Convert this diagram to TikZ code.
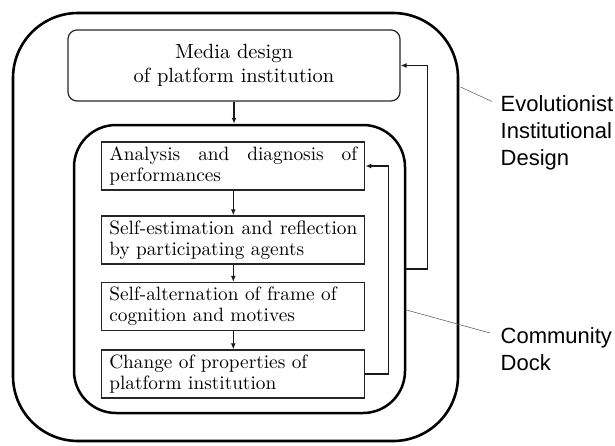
\documentclass[tikz,border=0pt]{standalone}
\usepackage{fontspec}
\newfontfamily\labelsans{Liberation Sans}
\newfontfamily\boxserif{lmroman10-regular}[Extension=.otf]
\usetikzlibrary{arrows.meta}
\begin{document}
\begin{tikzpicture}[x=1pt,y=-1pt,
  bigframe/.style={draw=black, line width=2.6pt, rounded corners=65pt, inner sep=0pt},
  dockframe/.style={draw=black, line width=2.5pt, rounded corners=42pt, inner sep=0pt},
  mediabox/.style={draw=black!85, line width=1.2pt, rounded corners=9pt, minimum width=332pt, minimum height=71pt, inner sep=0pt, align=center, font=\boxserif\fontsize{20.5}{24}\selectfont},
  stepbox/.style={draw=black!85, line width=1.3pt, minimum width=263pt, minimum height=48pt, text width=248pt, inner xsep=7.5pt, inner ysep=0pt, align=left, font=\boxserif\fontsize{19.3}{21}\selectfont},
  arr/.style={draw=black!90, line width=1.2pt, -{Latex[length=6pt,width=5pt]}},
  leader/.style={draw=black!60, line width=0.6pt},
  lbl/.style={font=\labelsans\fontsize{22}{27}\selectfont, align=left, inner sep=0pt, anchor=north west}]
\useasboundingbox (0,0) rectangle (615,445);
% frames
\node[bigframe, minimum width=445pt, minimum height=428pt] (outer) at (235.5,227) {};
\node[dockframe, minimum width=331pt, minimum height=288pt] (inner) at (239.5,269) {};
% boxes
\node[mediabox] (media) at (234,65.5) {Media design\\of platform institution};
\node[stepbox] (s1) at (233.3,166) {\hbox to 248pt{Analysis\hfill and\hfill diagnosis\hfill of}\\performances};
\node[stepbox] (s2) at (233.3,240) {\hbox to 248pt{Self-estimation\hfill and\hfill reflection}\\by participating agents};
\node[stepbox] (s3) at (233.3,306.5) {Self-alternation of frame of\\cognition and motives};
\node[stepbox] (s4) at (233.3,374) {Change of properties of\\platform institution};
% labels
\node[lbl] (evo) at (500.5,95.5) {Evolutionist\\Institutional\\Design};
\node[lbl] (com) at (500.5,327) {Community\\Dock};
% arrows
\draw[arr] (media.south) -- (media.south |- inner.north);
\draw[arr] (s1.south) -- (s2.north);
\draw[arr] (s2.south) -- (s3.north);
\draw[arr] (s3.south) -- (s4.north);
\draw[arr] (s4.east) -- ++(23,0) |- (s1.east);
\draw[arr] (inner.east) -- ++(21,0) |- (media.east);
% leader lines
\coordinate (evoA) at (460.5,87);
\coordinate (comA) at (406.5,310);
\draw[leader] (evoA) -- ([shift={(-8.5,6)}]evo.north west);
\draw[leader] (comA) -- ([shift={(-10.5,6)}]com.north west);
\end{tikzpicture}
\end{document}
